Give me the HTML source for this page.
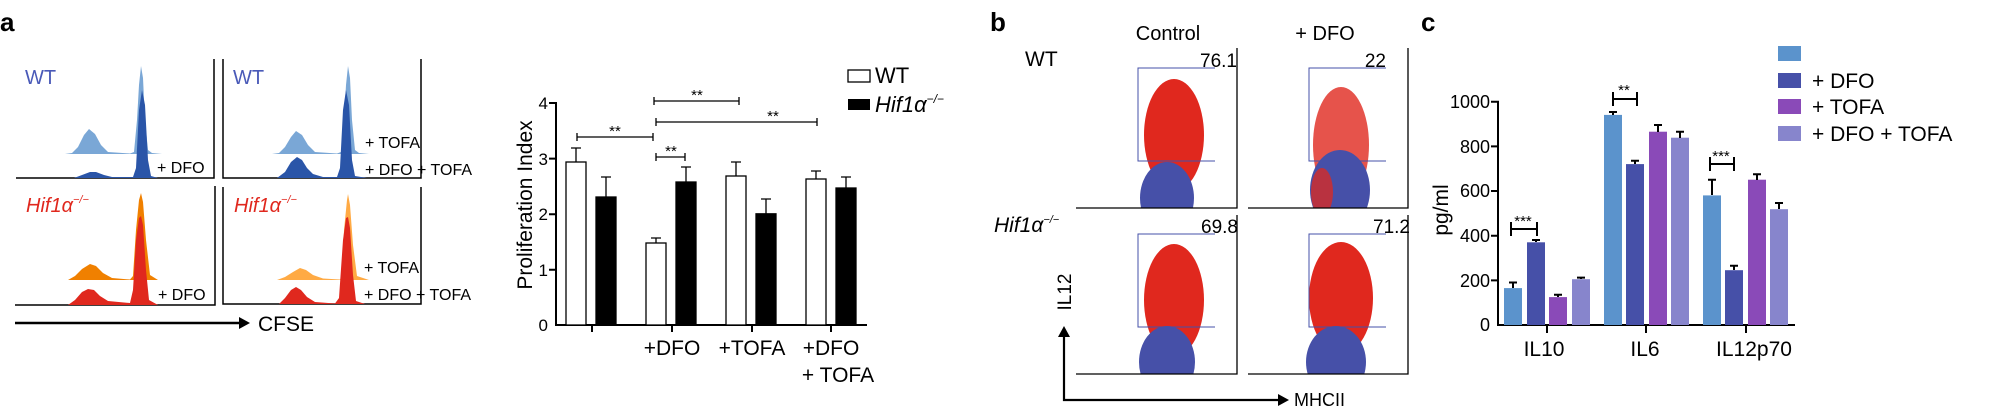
<!DOCTYPE html>
<html><head><meta charset="utf-8"><style>
html,body{margin:0;padding:0;background:#fff;}
svg{display:block;font-family:"Liberation Sans",Arial,sans-serif;}
</style></head><body>
<svg width="2006" height="412" viewBox="0 0 2006 412" xmlns="http://www.w3.org/2000/svg">
<defs>
<clipPath id="cb1"><rect x="1076" y="48" width="162" height="160"/></clipPath>
<clipPath id="cb2"><rect x="1248" y="48" width="161" height="160"/></clipPath>
<clipPath id="cb3"><rect x="1076" y="215" width="162" height="159"/></clipPath>
<clipPath id="cb4"><rect x="1248" y="215" width="161" height="159"/></clipPath>
</defs>
<!-- ===== Panel a ===== -->
<text x="0" y="31" font-size="26" font-weight="bold">a</text>
<g stroke="#000" stroke-width="1.5" fill="none">
<path d="M16,178 H214 V59"/><path d="M223,59 V178 H421 V59"/>
<path d="M15,305 H215 V186"/><path d="M223,187 V304 H421 V187"/>
</g>
<g>
<path fill="#7aa7d6" d="M65,154 L72,153 L78,147 L84,135 L89,129 L95,134 L101,145 L108,152 L130,153.5 L134,152 L137,120 L139,85 L141,66 L143,78 L145,120 L148,150 L152,153 L162,154 Z"/>
<path fill="#2a55a8" d="M74,178 L82,175 L90,172 L96,172 L104,175 L112,177 L133,177 L136,168 L139,110 L142,90 L145,105 L148,160 L151,176 L158,178 Z"/>
</g>
<g transform="translate(207,0)">
<path fill="#7aa7d6" d="M65,154 L72,153 L78,147 L84,137 L89,131 L95,135 L101,145 L108,152 L130,153.5 L134,152 L137,120 L139,85 L141,66 L143,78 L145,120 L148,150 L152,153 L162,154 Z"/>
<path fill="#2a55a8" d="M70,178 L78,172 L84,162 L90,157 L95,160 L100,168 L106,174 L116,177 L130,177 L133,168 L136,110 L139,90 L142,105 L145,160 L148,176 L160,178 Z"/>
</g>
<g>
<path fill="#f08000" d="M68,280 L75,276 L82,269 L90,264 L96,266 L103,273 L112,278 L130,279.5 L133,276 L136,230 L139,200 L141,193 L143,202 L146,240 L150,275 L158,280 Z"/>
<path fill="#e0281e" d="M68,305 L75,300 L82,292 L88,289 L94,290 L100,296 L108,301 L130,303 L133,290 L136,240 L139,218 L141,216 L143,225 L146,270 L149,300 L158,305 Z"/>
</g>
<g transform="translate(207,0)">
<path fill="#ffaa44" d="M70,280 L78,277 L86,272 L93,268 L99,270 L106,275 L116,278.5 L133,279.5 L135,276 L137,230 L140,200 L141,194 L143,205 L146,245 L150,276 L162,280 Z"/>
<path fill="#e0281e" d="M72,304 L78,298 L84,290 L89,287 L94,290 L100,297 L108,302 L128,303.5 L132,298 L136,240 L139,218 L141,217 L143,228 L146,275 L149,301 L158,304 Z"/>
</g>
<g font-size="20" fill="#4a5ab8"><text x="25" y="84">WT</text><text x="233" y="84">WT</text></g>
<g font-size="20" fill="#e0281e" font-style="italic"><text x="26" y="212">Hif1α<tspan font-size="11" dy="-9">−/−</tspan></text><text x="234" y="212">Hif1α<tspan font-size="11" dy="-9">−/−</tspan></text></g>
<g font-size="16" fill="#000">
<text x="157" y="173">+ DFO</text>
<text x="365" y="148">+ TOFA</text><text x="365" y="175">+ DFO + TOFA</text>
<text x="158" y="300">+ DFO</text>
<text x="364" y="273">+ TOFA</text><text x="364" y="300">+ DFO + TOFA</text>
</g>
<path d="M15,323 H240" stroke="#000" stroke-width="2.5"/>
<path d="M239,317 L250,323 L239,329 Z" fill="#000"/>
<text x="258" y="331" font-size="21">CFSE</text>
<!-- bar chart a -->
<g stroke="#000" stroke-width="2" fill="none">
<path d="M549,103 H556 V325 H867"/>
<path d="M549,158.6 H556 M549,214.2 H556 M549,269.8 H556"/>
<path d="M592,325 V332 M672,325 V332 M752,325 V332 M831,325 V332"/>
</g>
<g font-size="17" text-anchor="end"><text x="548" y="109">4</text><text x="548" y="165">3</text><text x="548" y="220">2</text><text x="548" y="276">1</text><text x="548" y="331">0</text></g>
<text transform="translate(532,205) rotate(-90)" font-size="21" text-anchor="middle">Proliferation Index</text>
<g stroke="#000" stroke-width="1.3">
<rect x="566" y="162" width="20" height="163" fill="#fff"/>
<rect x="596" y="197" width="20" height="128" fill="#000"/>
<rect x="646" y="243" width="20" height="82" fill="#fff"/>
<rect x="676" y="182" width="20" height="143" fill="#000"/>
<rect x="726" y="176" width="20" height="149" fill="#fff"/>
<rect x="756" y="213.8" width="20" height="111" fill="#000"/>
<rect x="806" y="179" width="20" height="146" fill="#fff"/>
<rect x="836" y="188" width="20" height="137" fill="#000"/>
<path fill="none" d="M576,162 V148 M571,148 H581 M606,197 V177 M601,177 H611 M656,243 V238 M651,238 H661 M686,182 V167 M681,167 H691 M736,176 V162 M731,162 H741 M766,214 V199 M761,199 H771 M816,179 V171 M811,171 H821 M846,188 V177 M841,177 H851"/>
<path fill="none" d="M577,137 H653 M577,133 V141 M653,133 V141 M654,101 H739 M654,97 V105 M739,97 V105 M656,122 H817 M656,118 V126 M817,118 V126 M656,157 H685 M656,153 V161 M685,153 V161"/>
</g>
<g font-size="15" text-anchor="middle"><text x="615" y="136">**</text><text x="697" y="100">**</text><text x="773" y="121">**</text><text x="671" y="156">**</text></g>
<g font-size="21" text-anchor="middle"><text x="672" y="355">+DFO</text><text x="752" y="355">+TOFA</text><text x="831" y="355">+DFO</text><text x="838" y="382">+ TOFA</text></g>
<rect x="848" y="70" width="22" height="12" fill="#fff" stroke="#000" stroke-width="1.3"/>
<rect x="848" y="99" width="22" height="11" fill="#000"/>
<text x="875" y="83" font-size="22">WT</text>
<text x="875" y="112" font-size="22" font-style="italic">Hif1α<tspan font-size="12" dy="-9">−/−</tspan></text>
<!-- ===== Panel b ===== -->
<text x="990" y="31" font-size="26" font-weight="bold">b</text>
<text x="1168" y="40" font-size="20" text-anchor="middle">Control</text>
<text x="1325" y="40" font-size="20" text-anchor="middle">+ DFO</text>
<text x="1025" y="66" font-size="21">WT</text>
<text x="994" y="232" font-size="21" font-style="italic">Hif1α<tspan font-size="11" dy="-9">−/−</tspan></text>
<g clip-path="url(#cb1)">
<ellipse cx="1174" cy="135" rx="30" ry="56" fill="#e0281e"/>
<ellipse cx="1167" cy="198" rx="27" ry="36" fill="#4650a8"/>
</g>
<g clip-path="url(#cb2)">
<ellipse cx="1341" cy="145" rx="28" ry="58" fill="#e0281e" opacity="0.8"/>
<ellipse cx="1340" cy="190" rx="30" ry="40" fill="#4650a8"/>
<ellipse cx="1322" cy="192" rx="11" ry="24" fill="#e0281e" opacity="0.75"/>
</g>
<g clip-path="url(#cb3)">
<ellipse cx="1174" cy="300" rx="30" ry="56" fill="#e0281e"/>
<ellipse cx="1167" cy="362" rx="28" ry="36" fill="#4650a8"/>
</g>
<g clip-path="url(#cb4)">
<ellipse cx="1341" cy="298" rx="32" ry="56" fill="#e0281e"/>
<ellipse cx="1336" cy="362" rx="30" ry="36" fill="#4650a8"/>
</g>
<g stroke="#4650a8" stroke-width="1" fill="none">
<path d="M1215,68 H1138 V161 H1215"/><path d="M1386,68 H1309 V161 H1386"/>
<path d="M1215,234 H1138 V327 H1215"/><path d="M1386,234 H1309 V327 H1386"/>
</g>
<g stroke="#000" stroke-width="1.3" fill="none">
<path d="M1076,208 H1237 V48"/><path d="M1248,208 H1408 V48"/>
<path d="M1076,374 H1237 V215"/><path d="M1248,374 H1408 V215"/>
</g>
<g font-size="19" text-anchor="end"><text x="1237" y="67">76.1</text><text x="1386" y="67">22</text><text x="1238" y="233">69.8</text><text x="1410" y="233">71.2</text></g>
<text transform="translate(1071,292) rotate(-90)" font-size="19" text-anchor="middle">IL12</text>
<path d="M1064,335 V400 H1280" stroke="#000" stroke-width="2.2" fill="none"/>
<path d="M1058,337 L1064,326 L1070,337 Z M1278,394 L1289,400 L1278,406 Z" fill="#000"/>
<text x="1294" y="406" font-size="18">MHCII</text>
<!-- ===== Panel c ===== -->
<text x="1421" y="31" font-size="26" font-weight="bold">c</text>
<g stroke="#000" stroke-width="2" fill="none">
<path d="M1491,101.7 H1498 V325 H1795"/>
<path d="M1491,146.4 H1498 M1491,191 H1498 M1491,235.7 H1498 M1491,280.4 H1498"/>
<path d="M1547,325 V333 M1646,325 V333 M1746,325 V333"/>
</g>
<g font-size="18" text-anchor="end"><text x="1490" y="108">1000</text><text x="1490" y="153">800</text><text x="1490" y="197">600</text><text x="1490" y="242">400</text><text x="1490" y="287">200</text><text x="1490" y="331">0</text></g>
<text transform="translate(1448,210) rotate(-90)" font-size="21" text-anchor="middle">pg/ml</text>
<g>
<rect x="1504" y="288.1" width="18" height="36.9" fill="#5b93cc"/>
<rect x="1527" y="242.3" width="18" height="82.7" fill="#4650a8"/>
<rect x="1549" y="297.1" width="18" height="27.9" fill="#8a4ab8"/>
<rect x="1572" y="279.2" width="18" height="45.8" fill="#8785cc"/>
<rect x="1604" y="114.9" width="18" height="210.1" fill="#5b93cc"/>
<rect x="1626" y="164.1" width="18" height="160.9" fill="#4650a8"/>
<rect x="1649" y="131.7" width="18" height="193.3" fill="#8a4ab8"/>
<rect x="1671" y="137.7" width="18" height="187.3" fill="#8785cc"/>
<rect x="1703" y="195.4" width="18" height="129.6" fill="#5b93cc"/>
<rect x="1725" y="270.2" width="18" height="54.8" fill="#4650a8"/>
<rect x="1748" y="179.7" width="18" height="145.3" fill="#8a4ab8"/>
<rect x="1770" y="209.2" width="18" height="115.8" fill="#8785cc"/>
</g>
<g stroke="#000" stroke-width="2" fill="none">
<path d="M1513,288 V282.5 M1509,282.5 H1517 M1536,242 V240 M1532,240 H1540 M1558,297 V294.8 M1554,294.8 H1562 M1581,279 V277.6 M1577,277.6 H1585"/>
<path d="M1613,115 V112 M1609,112 H1617 M1635,164 V160.7 M1631,160.7 H1639 M1658,132 V125 M1654,125 H1662 M1680,138 V131.7 M1676,131.7 H1684"/>
<path d="M1712,195 V179.7 M1708,179.7 H1716 M1734,270 V265.8 M1730,265.8 H1738 M1757,180 V174.2 M1753,174.2 H1761 M1779,209 V203 M1775,203 H1783"/>
<path d="M1511,229 H1537 M1511,222 V236 M1537,222 V236 M1613,99 H1637 M1613,92 V106 M1637,92 V106 M1710,164 H1734 M1710,157 V171 M1734,157 V171"/>
</g>
<g font-size="15" text-anchor="middle"><text x="1523" y="226">***</text><text x="1624" y="95">**</text><text x="1721" y="161">***</text></g>
<g font-size="21" text-anchor="middle"><text x="1544" y="356">IL10</text><text x="1645" y="356">IL6</text><text x="1754" y="356">IL12p70</text></g>
<rect x="1778" y="46" width="23" height="15" fill="#5b93cc"/>
<rect x="1778" y="73" width="23" height="15" fill="#4650a8"/>
<rect x="1778" y="99" width="23" height="15" fill="#8a4ab8"/>
<rect x="1778" y="126" width="23" height="15" fill="#8785cc"/>
<g font-size="21"><text x="1812" y="88">+ DFO</text><text x="1812" y="114">+ TOFA</text><text x="1812" y="141">+ DFO + TOFA</text></g>
</svg>
</body></html>
